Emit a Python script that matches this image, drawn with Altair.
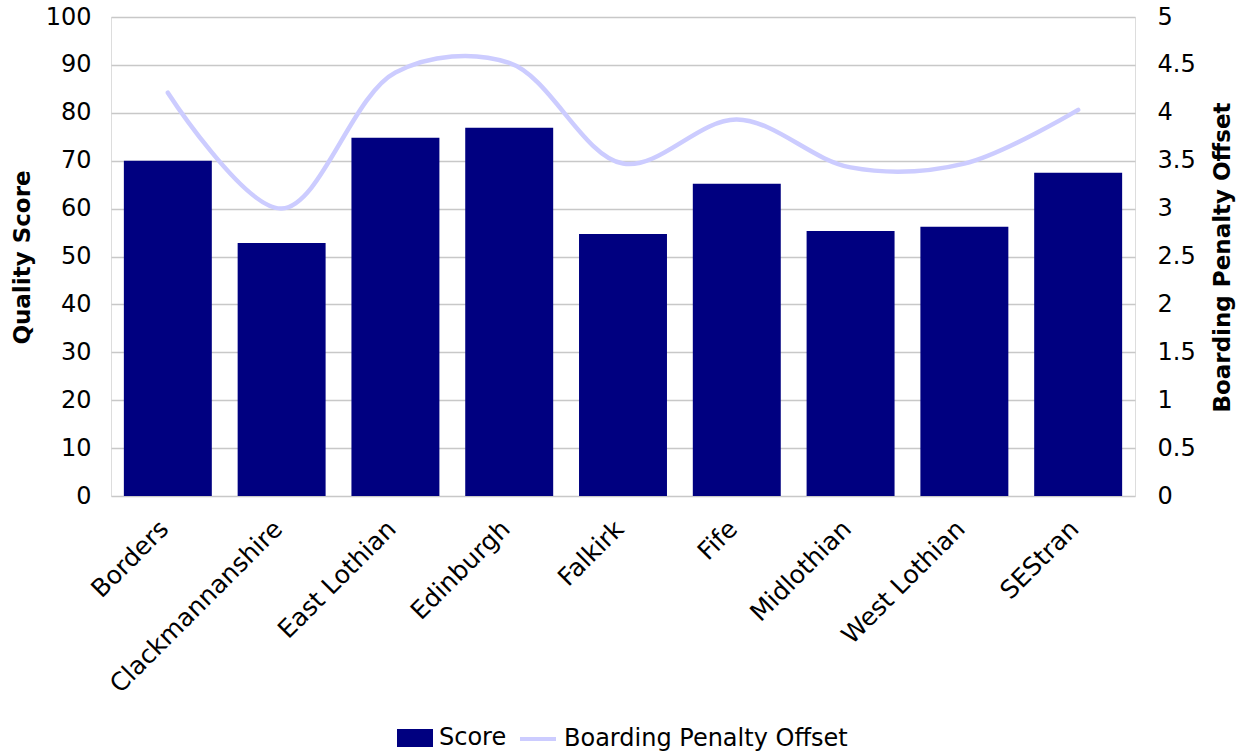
import altair as alt
import pandas as pd

# Regional quality scores with the boarding penalty offset for each area
regions = ["Borders", "Clackmannanshire", "East Lothian", "Edinburgh", "Falkirk",
           "Fife", "Midlothian", "West Lothian", "SEStran"]
scores = [70.0, 52.8, 74.8, 76.9, 54.7, 65.2, 55.3, 56.2, 67.5]
offsets = [4.21, 3.00, 4.42, 4.52, 3.47, 3.93, 3.43, 3.47, 4.03]

df = pd.DataFrame({
    "region": regions,
    "score": scores,
    "offset": offsets,
    "bar_series": ["Score"] * len(regions),
    "line_series": ["Boarding Penalty Offset"] * len(regions),
})

FONT = "DejaVu Sans"
NAVY = "#000080"
LAVENDER = "#ccccff"
FS = 24

x_enc = alt.X(
    "region:N", sort=regions, title=None,
    scale=alt.Scale(paddingInner=0.227, paddingOuter=0.113),
    axis=alt.Axis(labelAngle=-45, labelFontSize=25, labelColor="black",
                  labelFont=FONT, ticks=False, domain=False, labelPadding=20,
                  labelOffset=-12, labelLimit=0),
)

bars = alt.Chart(df).mark_bar(color=NAVY).encode(
    x=x_enc,
    y=alt.Y("score:Q", title="Quality Score",
            scale=alt.Scale(domain=[0, 100]),
            axis=alt.Axis(values=list(range(0, 101, 10)), orient="left",
                          titleFontSize=FS - 1, titleFont=FONT, titleFontWeight="bold",
                          titleColor="black", titleX=-89, titleY=240,
                          titleAlign="center", titleBaseline="middle", titleAngle=270,
                          labelFontSize=FS, labelFont=FONT, labelColor="black",
                          ticks=False, domain=False, labelPadding=20,
                          grid=True, gridColor="#c8c8c8", gridWidth=1.3)),
    fill=alt.Fill("bar_series:N", title=None,
                  scale=alt.Scale(domain=["Score"], range=[NAVY]),
                  legend=alt.Legend(orient="none", legendX=286, legendY=703,
                                    symbolType="M-1,-0.5H1V0.5H-1Z", symbolSize=1296,
                                    symbolStrokeWidth=0, labelFontSize=FS,
                                    labelFont=FONT, labelColor="black", labelOffset=6,
                                    labelLimit=0)),
)

line = alt.Chart(df).mark_line(
    color=LAVENDER, strokeWidth=4.5, interpolate="catmull-rom", strokeCap="round"
).encode(
    x=alt.X("region:N", sort=regions),
    y=alt.Y("offset:Q", title="Boarding Penalty Offset",
            scale=alt.Scale(domain=[0, 5]),
            axis=alt.Axis(values=[i * 0.5 for i in range(11)], orient="right",
                          format=".1~f",
                          titleFontSize=FS - 1, titleFont=FONT, titleFontWeight="bold",
                          titleColor="black", titleX=87, titleY=240,
                          titleAlign="center", titleBaseline="middle", titleAngle=270,
                          labelFontSize=FS, labelFont=FONT, labelColor="black",
                          ticks=False, domain=False, labelPadding=22, grid=False)),
    stroke=alt.Stroke("line_series:N", title=None,
                      scale=alt.Scale(domain=["Boarding Penalty Offset"], range=[LAVENDER]),
                      legend=alt.Legend(orient="none", legendX=407, legendY=702,
                                        symbolType="stroke", symbolSize=1296,
                                        symbolStrokeWidth=4, labelFontSize=FS,
                                        labelFont=FONT, labelColor="black", labelOffset=6,
                                        labelLimit=0)),
)

chart = alt.layer(bars, line).resolve_scale(y="independent").properties(
    width=1024, height=479,
    autosize=alt.AutoSizeParams(type="none"),
    padding={"left": 111, "top": 17, "right": 110, "bottom": 257},
).configure_view(stroke=None).configure(background="white")

chart.save("out.html", embed_options={"renderer": "svg", "actions": False})
